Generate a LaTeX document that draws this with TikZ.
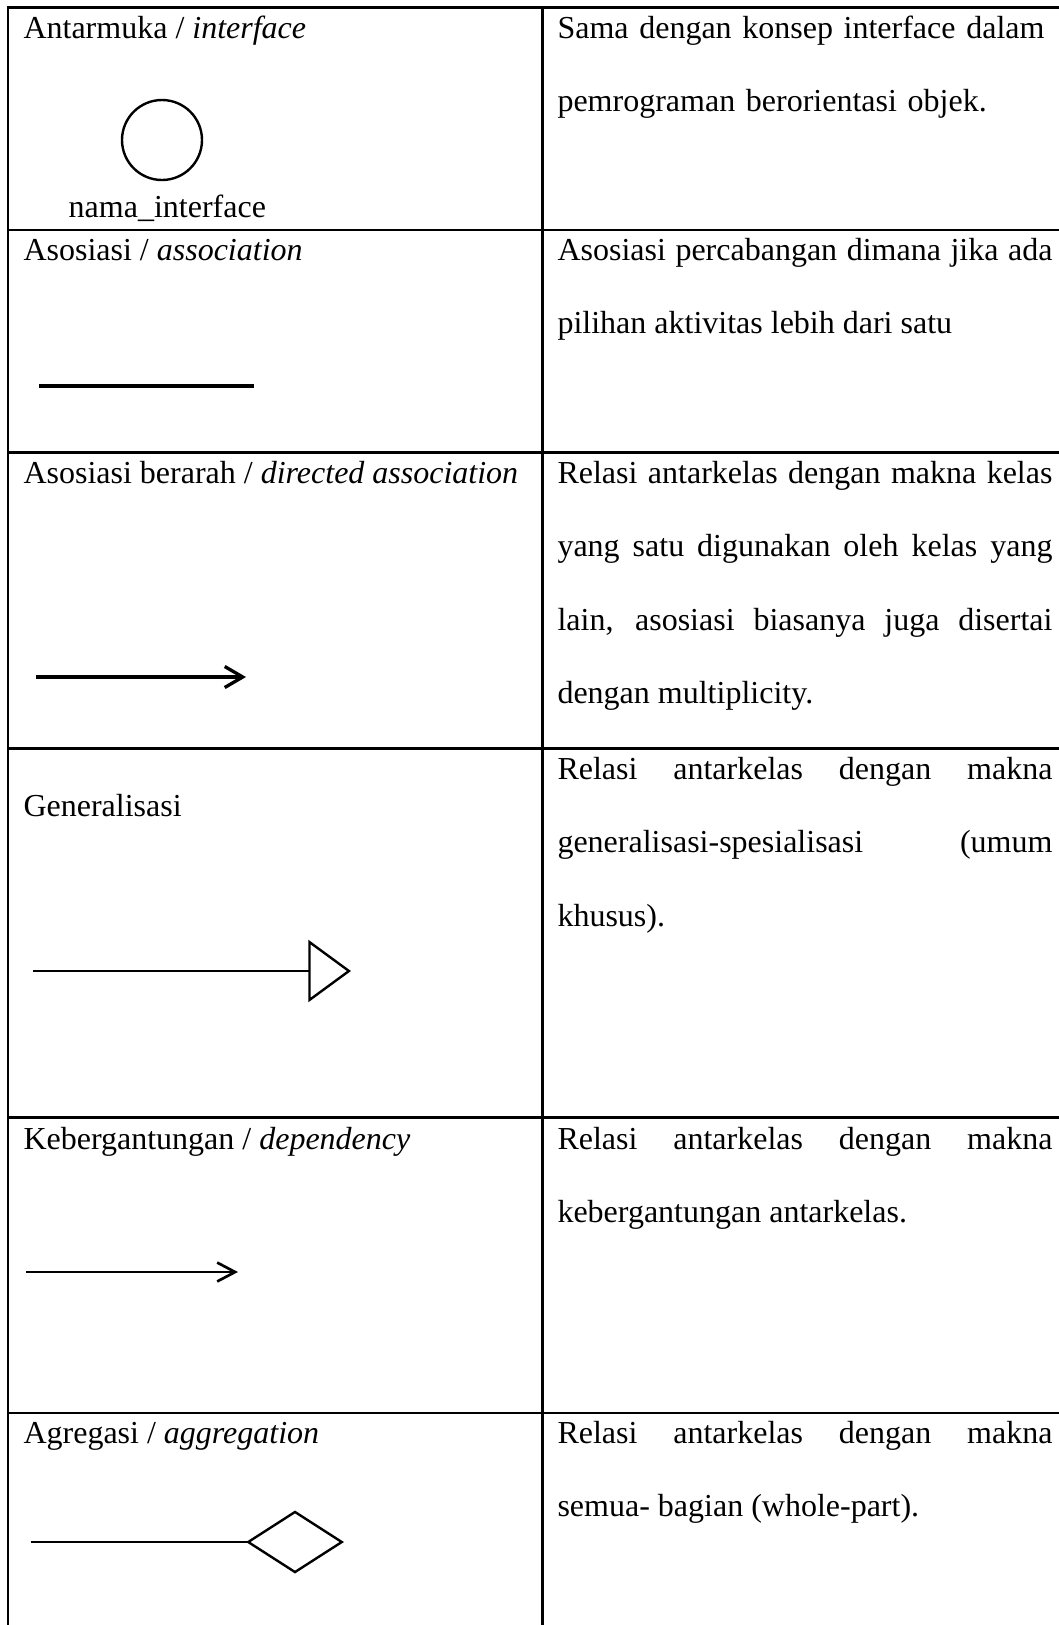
\documentclass[tikz,border=0pt]{standalone}
\usepackage{fontspec}
\setmainfont{Liberation Serif}
\usetikzlibrary{positioning,arrows.meta}
\hyphenpenalty=10000
\exhyphenpenalty=10000

\begin{document}
\begin{tikzpicture}[x=0.375pt, y=-0.375pt,
table_line/.style={draw=black, line width=1.1pt},
left_text/.style={anchor=base west, inner sep=0pt, font=\fontsize{12}{27.6}\selectfont},
right_text/.style={anchor=base west, inner sep=0pt, text width=185.6pt, align=justify, font=\fontsize{12}{27.6}\selectfont},
interface_circle/.style={circle, draw=black, line width=0.9pt, minimum size=30pt, inner sep=0pt},
]

\useasboundingbox (0,0) rectangle (1059,1625);

% table grid, cut off at the right and at the bottom
\draw[table_line] (1059,7.5) -- (8,7.5) -- (8,1625);
\draw[table_line] (542.7,7.5) -- (542.7,1625);
\foreach \rowy in {230,452.7,748.5,1117.5,1413}
  \draw[table_line] (8,\rowy) -- (1059,\rowy);

% \node[type](name_of_node) at (x,y){text_in_node}
\node[left_text](label_interface) at (23,38){Antarmuka / \textit{interface}};
\node[interface_circle](circle_interface) at (162,140){};
\node[inner sep=0pt, font=\fontsize{12}{27.6}\selectfont](name_interface)[below=5pt of circle_interface, xshift=2pt]{nama\_interface};

\node[left_text](label_association) at (23,260){Asosiasi / \textit{association}};
\coordinate (association_start) at (39,386);
\coordinate (association_end) at (254,386);

\node[left_text](label_directed) at (23,483){Asosiasi berarah / \textit{directed association}};
\coordinate (directed_start) at (36,677);
\coordinate (directed_end) at (246,677);

\node[left_text](label_generalization) at (23,816){Generalisasi};
\coordinate (generalization_start) at (33,971);
\coordinate (generalization_end) at (351,971);

\node[left_text](label_dependency) at (23,1149){Kebergantungan / \textit{dependency}};
\coordinate (dependency_start) at (26,1272);
\coordinate (dependency_end) at (238,1272);

\node[left_text](label_aggregation) at (23,1443){Agregasi / \textit{aggregation}};
\coordinate (aggregation_start) at (31,1542);
\coordinate (aggregation_end) at (344,1542);

% \draw[tip] (name_of_coordinate) -- (name_of_coordinate)
\draw[line width=1.5pt] (association_start) -- (association_end);
\draw[line width=1.25pt, -{Straight Barb[length=6.75pt, width=7.9pt]}] (directed_start) -- (directed_end);
\draw[line width=0.55pt, -{Triangle[open, length=16pt, width=23.25pt, line width=0.9pt]}] (generalization_start) -- (generalization_end);
\draw[line width=1pt, -{Straight Barb[length=6.75pt, width=7.1pt]}] (dependency_start) -- (dependency_end);
\draw[line width=0.9pt, -{Diamond[open, length=36.75pt, width=23.6pt]}] (aggregation_start) -- (aggregation_end);

\node[right_text, align=left](desc_interface) at (557,38){Sama dengan konsep interface dalam\\pemrograman berorientasi objek.};
\node[right_text](desc_association) at (557,260){Asosiasi percabangan dimana jika ada \linebreak pilihan aktivitas lebih dari satu};
\node[right_text](desc_directed) at (557,483){Relasi antarkelas dengan makna kelas \linebreak yang satu digunakan oleh kelas yang \linebreak lain, asosiasi biasanya juga disertai \linebreak dengan multiplicity.};
\node[right_text](desc_generalization) at (557,779){Relasi antarkelas dengan makna \linebreak generalisasi-spesialisasi (umum \linebreak khusus).};
\node[right_text](desc_dependency) at (557,1149){Relasi antarkelas dengan makna \linebreak kebergantungan antarkelas.};
\node[right_text](desc_aggregation) at (557,1443){Relasi antarkelas dengan makna \linebreak semua- bagian (whole-part).};

\end{tikzpicture}
\end{document}
